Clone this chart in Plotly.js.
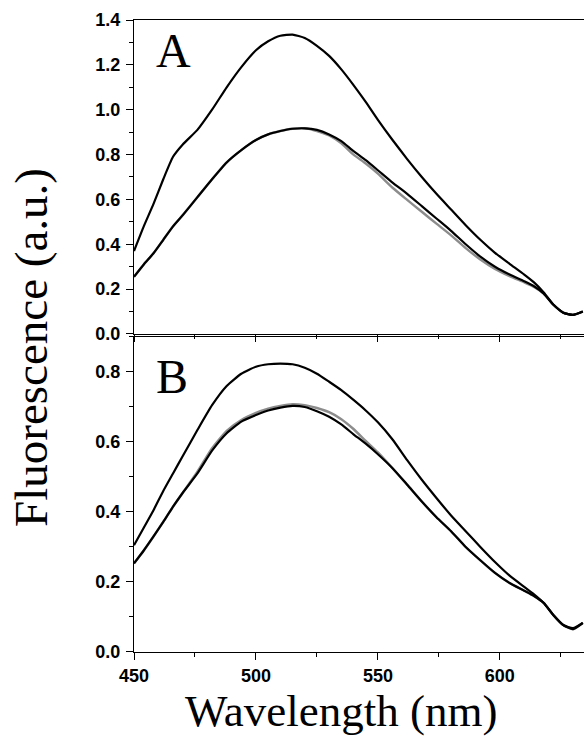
<!DOCTYPE html>
<html>
<head>
<meta charset="utf-8">
<script src="https://cdn.plot.ly/plotly-3.0.1.min.js"></script>
<style>html,body{margin:0;padding:0;background:#fff;}#chart{width:584px;height:737px;}</style>
</head>
<body>
<div id="chart"></div>
<script>
// Wavelength grid (nm)
const wavelength = [450,454,458,462,466,470,476,482,488,494,500,505,510,515,520,525,530,535,540,545,550,556,562,568,574,580,586,592,598,604,610,614,618,622,626,630,634];

// Panel A
const a_high  = [0.37,0.48,0.58,0.69,0.79,0.845,0.91,1.00,1.10,1.19,1.265,1.305,1.33,1.335,1.32,1.285,1.24,1.18,1.11,1.035,0.955,0.865,0.78,0.70,0.625,0.555,0.485,0.42,0.362,0.313,0.265,0.23,0.185,0.13,0.095,0.085,0.10];
const a_mid   = [0.255,0.31,0.36,0.42,0.48,0.53,0.61,0.69,0.765,0.82,0.865,0.89,0.905,0.915,0.917,0.91,0.89,0.86,0.815,0.775,0.73,0.675,0.625,0.57,0.515,0.46,0.40,0.345,0.30,0.265,0.235,0.213,0.18,0.13,0.095,0.085,0.10];
const a_gray  = [0.255,0.31,0.36,0.42,0.48,0.53,0.61,0.69,0.765,0.82,0.865,0.89,0.905,0.915,0.917,0.905,0.885,0.85,0.80,0.76,0.715,0.652,0.598,0.545,0.492,0.44,0.383,0.332,0.29,0.258,0.23,0.21,0.18,0.13,0.095,0.085,0.10];

// Panel B
const b_high  = [0.305,0.355,0.405,0.46,0.51,0.56,0.634,0.705,0.76,0.795,0.815,0.822,0.824,0.822,0.812,0.795,0.772,0.748,0.72,0.69,0.656,0.607,0.548,0.492,0.44,0.39,0.345,0.30,0.257,0.218,0.186,0.165,0.14,0.105,0.077,0.068,0.083];
const b_mid   = [0.253,0.29,0.33,0.372,0.415,0.455,0.51,0.575,0.625,0.658,0.677,0.69,0.698,0.703,0.70,0.688,0.672,0.65,0.622,0.595,0.565,0.525,0.478,0.43,0.385,0.345,0.30,0.262,0.226,0.197,0.175,0.16,0.14,0.105,0.077,0.065,0.083];
const b_gray  = [0.253,0.29,0.33,0.372,0.415,0.455,0.515,0.582,0.632,0.663,0.683,0.695,0.703,0.708,0.705,0.697,0.685,0.665,0.637,0.603,0.57,0.525,0.478,0.43,0.385,0.345,0.30,0.262,0.226,0.197,0.175,0.16,0.14,0.105,0.077,0.065,0.083];

const xTicks = [450,500,550,600];
const aTicks = [0,0.2,0.4,0.6,0.8,1.0,1.2,1.4];
const bTicks = [0,0.2,0.4,0.6,0.8];
const panelLabels = ['A','B'];
const yTitle = 'Fluorescence (a.u.)';
const xTitle = 'Wavelength (nm)';

const serif = 'Liberation Serif, Times New Roman, serif';
const sans = 'Liberation Sans, Arial, sans-serif';
const tickFont = {family: sans, size: 18, color: '#000', weight: 'bold'};

function tr(y, axis, color, width) {
  return {x: wavelength, y: y, xaxis: axis[0], yaxis: axis[1], type: 'scatter', mode: 'lines',
          line: {color: color, width: width, shape: 'spline', smoothing: 0.5}, hoverinfo: 'none', showlegend: false};
}

const data = [
  tr(a_gray, ['x2','y2'], '#8c8c8c', 2.4),
  tr(a_mid,  ['x2','y2'], '#000', 2.2),
  tr(a_high, ['x2','y2'], '#000', 2.2),
  tr(b_gray, ['x','y'], '#8c8c8c', 2.4),
  tr(b_mid,  ['x','y'], '#000', 2.2),
  tr(b_high, ['x','y'], '#000', 2.2)
];

const xCommon = {
  range: [450, 634.5], tickvals: xTicks, ticks: 'outside', ticklen: 7, tickwidth: 1, tickcolor: '#000',
  showline: true, linecolor: '#000', linewidth: 1.2, mirror: true, showgrid: false, zeroline: false,
  minor: {dtick: 25, tick0: 450, ticks: 'outside', ticklen: 4, tickcolor: '#000', tickwidth: 1, showgrid: false},
  tickfont: tickFont
};

const yMinor = {dtick: 0.1, tick0: 0, ticks: 'outside', ticklen: 4, tickcolor: '#000', tickwidth: 1, showgrid: false};

const layout = {
  width: 584, height: 737,
  margin: {l: 134, r: 0, t: 20, b: 85},
  paper_bgcolor: '#fff', plot_bgcolor: '#fff',
  showlegend: false,
  xaxis: Object.assign({}, xCommon, {anchor: 'y', domain: [0, 1]}),
  xaxis2: Object.assign({}, xCommon, {anchor: 'y2', domain: [0, 1], showticklabels: false, matches: 'x'}),
  yaxis: {
    domain: [0, 0.4985], range: [0, 0.9], tickvals: bTicks, tickformat: '.1f',
    ticks: 'outside', ticklen: 7, tickwidth: 1, tickcolor: '#000', showline: true, linecolor: '#000', linewidth: 1.2,
    showgrid: false, zeroline: false, tickfont: tickFont, ticklabelstandoff: 2, minor: yMinor
  },
  yaxis2: {
    domain: [0.5032, 1], range: [0, 1.4], tickvals: aTicks, tickformat: '.1f',
    ticks: 'outside', ticklen: 7, tickwidth: 1, tickcolor: '#000', showline: true, linecolor: '#000', linewidth: 1.2,
    showgrid: false, zeroline: false, tickfont: tickFont, ticklabelstandoff: 2, minor: yMinor
  },
  annotations: [
    {text: panelLabels[0], xref: 'paper', yref: 'paper', x: 0.088, y: 0.951, xanchor: 'center', yanchor: 'middle',
     showarrow: false, font: {family: serif, size: 48, color: '#000'}},
    {text: panelLabels[1], xref: 'paper', yref: 'paper', x: 0.085, y: 0.4357, xanchor: 'center', yanchor: 'middle',
     showarrow: false, font: {family: serif, size: 48, color: '#000'}},
    {text: yTitle, xref: 'paper', yref: 'paper', x: -0.229, y: 0.4826, xanchor: 'center', yanchor: 'middle',
     textangle: -90, showarrow: false, font: {family: serif, size: 47, color: '#000'}},
    {text: xTitle, xref: 'paper', yref: 'paper', x: 0.46, y: -0.094, xanchor: 'center', yanchor: 'middle',
     showarrow: false, font: {family: serif, size: 45, color: '#000'}}
  ]
};

Plotly.newPlot('chart', data, layout, {staticPlot: true, displayModeBar: false});
</script>
</body>
</html>
